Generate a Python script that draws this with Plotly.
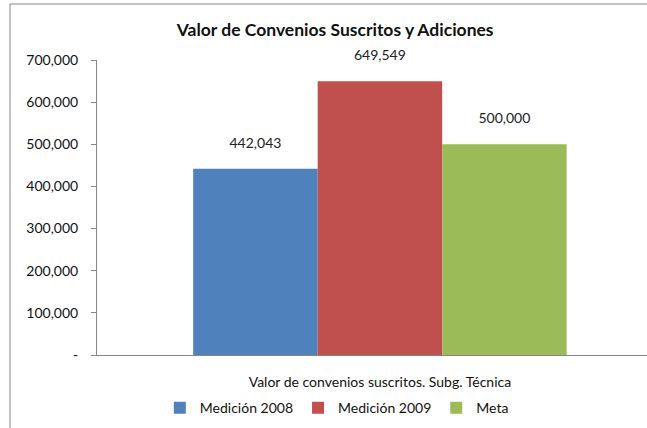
import plotly.graph_objects as go

# ── Data ────────────────────────────────────────────────────────────────────
CATEGORY = ["Valor de convenios suscritos. Subg. Técnica"]
SERIES = ["Medición 2008", "Medición 2009", "Meta"]
VALUES = [442043, 649549, 500000]
COLORS = ["#4F81BD", "#C0504D", "#9BBB59"]
Y_TICKS = [0, 100000, 200000, 300000, 400000, 500000, 600000, 700000]
Y_TICK_LABELS = ["-", "100,000", "200,000", "300,000", "400,000", "500,000", "600,000", "700,000"]

FONT = "Lato, 'Open Sans', sans-serif"
AXIS_GREY = "#868686"

fig = go.Figure()
for name, val, col in zip(SERIES, VALUES, COLORS):
    fig.add_trace(go.Bar(
        x=CATEGORY,
        y=[val],
        name=name,
        marker=dict(color=col, line=dict(width=0)),
        text=[f"{val:,}"],
        # small trailing line lifts the label a bit further above the bar
        texttemplate="%{text}<br><span style='font-size:1px'> </span>",
        textposition="outside",
        textfont=dict(family=FONT, size=14, color="#222222"),
        cliponaxis=False,
    ))

fig.update_layout(
    width=647,
    height=428,
    paper_bgcolor="white",
    plot_bgcolor="white",
    margin=dict(l=97, r=0, t=60, b=73),
    barmode="group",
    bargap=0.34,
    bargroupgap=0,
    font=dict(family=FONT, color="#111111"),
    title=dict(
        text="<b>Valor de Convenios Suscritos y Adiciones</b>",
        x=0.518, xref="container", xanchor="center",
        y=1 - 30 / 428, yref="container", yanchor="middle",
        font=dict(family=FONT, size=17.5, color="#111111"),
    ),
    xaxis=dict(
        type="category",
        range=[-0.5, 0.472],
        showline=True,
        linecolor=AXIS_GREY,
        linewidth=1,
        ticks="",
        showgrid=False,
        tickfont=dict(family=FONT, size=14, color="#111111"),
        ticklabelstandoff=14,
    ),
    yaxis=dict(
        range=[0, 700000],
        tickvals=Y_TICKS,
        ticktext=Y_TICK_LABELS,
        showline=True,
        linecolor=AXIS_GREY,
        linewidth=1,
        ticks="outside",
        ticklen=5,
        tickcolor=AXIS_GREY,
        showgrid=False,
        zeroline=False,
        tickfont=dict(family=FONT, size=14, color="#111111"),
        ticklabelstandoff=10,
    ),
    legend=dict(
        orientation="h",
        x=0.436, xanchor="center",
        y=-0.18, yanchor="middle",
        font=dict(family=FONT, size=14, color="#111111"),
        itemwidth=30,
        traceorder="normal",
    ),
    showlegend=True,
    shapes=[
        # chart frame (left and top edges visible)
        dict(type="line", xref="paper", yref="paper",
             x0=(10 - 97) / 550, x1=(10 - 97) / 550, y0=(355 - 4) / 295, y1=-0.3,
             line=dict(color=AXIS_GREY, width=1)),
        dict(type="line", xref="paper", yref="paper",
             x0=(10 - 97) / 550, x1=1.05, y0=(355 - 4) / 295, y1=(355 - 4) / 295,
             line=dict(color=AXIS_GREY, width=1)),
    ],
)

# drop the browser's default page margin so the figure sits at the top-left corner
fig.write_html(
    "out.html",
    config={"displayModeBar": False},
    post_script="document.body.style.margin='0';",
)
